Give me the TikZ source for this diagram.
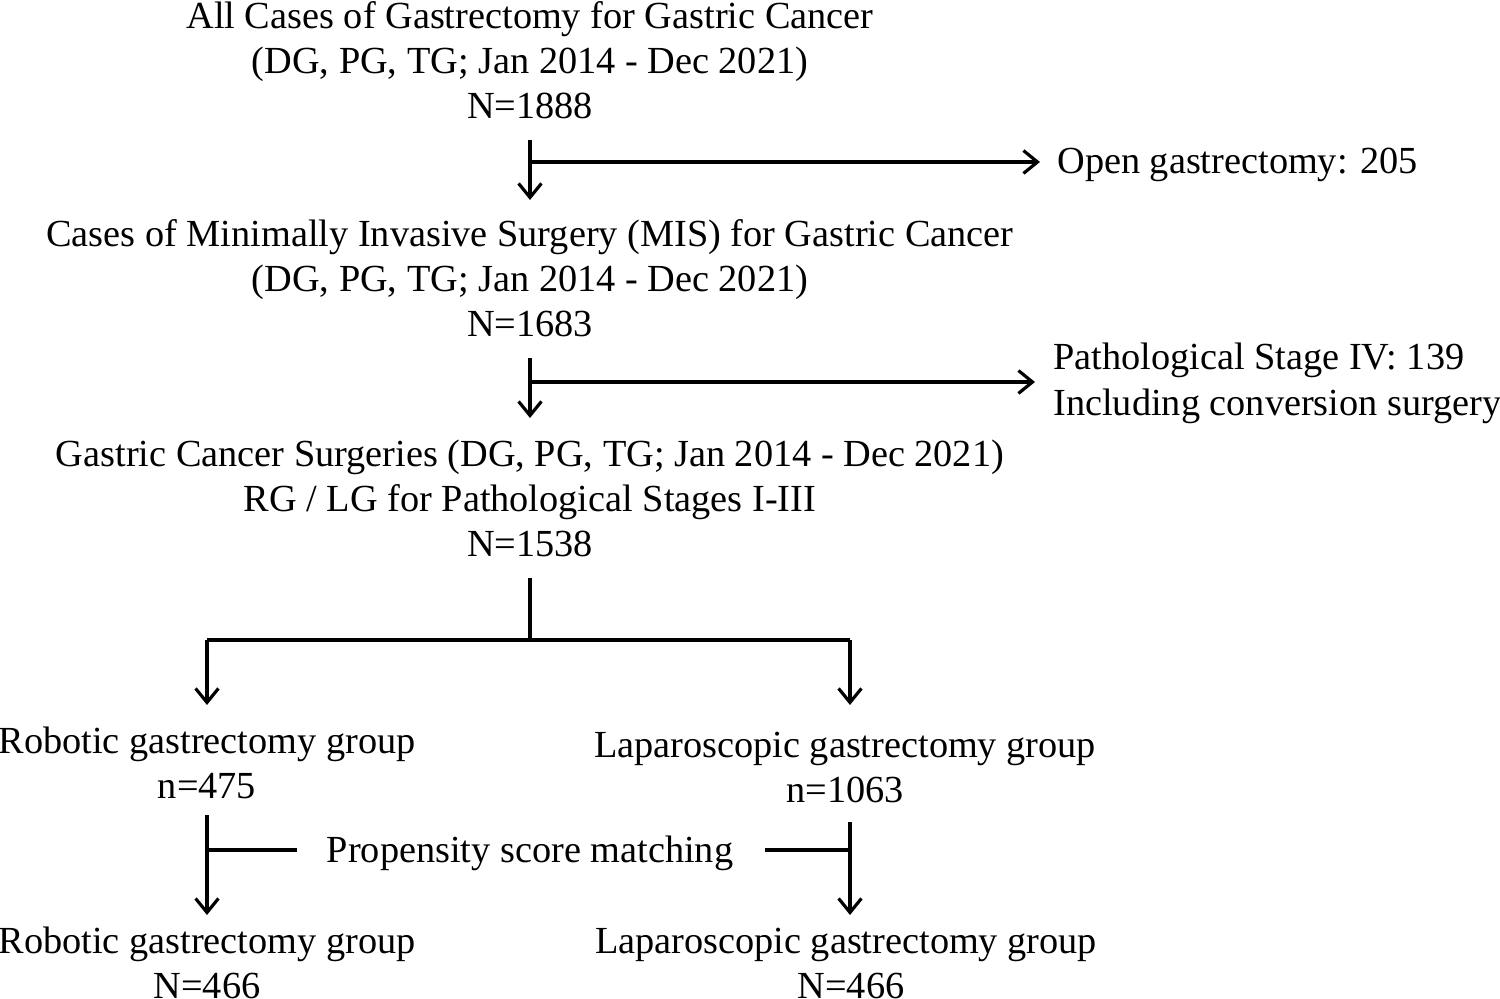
\documentclass[tikz,border=0pt]{standalone}
\usepackage{fontspec}
\setmainfont{Liberation Serif}
\usetikzlibrary{arrows.meta}
\begin{document}
\begin{tikzpicture}[x=0.02cm,y=-0.02cm,
  txt/.style={font=\fontsize{21.8}{25.5}\selectfont, inner sep=0pt, align=center},
  ln/.style={line width=1.8pt},
  arr/.style={ln, -{Straight Barb[length=8pt,width=13pt,line width=1.8pt]}}]
\useasboundingbox (0,0) rectangle (1500,999);
% blocks (anchor base of each line)
\node[txt, anchor=base] (b1a) at (530,29) {All Cases of Gastrectomy for Gastric Cancer};
\node[txt, anchor=base] (b1b) at (530,74) {(DG, PG, TG; Jan 2014 - Dec 2021)};
\node[txt, anchor=base] (b1c) at (530,119) {N=1888};
\node[txt, anchor=base] (b2a) at (530,247) {Cases of Minimally Invasive Surgery (MIS) for Gastric Cancer};
\node[txt, anchor=base] (b2b) at (530,292) {(DG, PG, TG; Jan 2014 - Dec 2021)};
\node[txt, anchor=base] (b2c) at (530,337) {N=1683};
\node[txt, anchor=base] (b3a) at (530,467) {Gastric Cancer Surgeries (DG, PG, TG; Jan 2014 - Dec 2021)};
\node[txt, anchor=base] (b3b) at (530,512) {RG / LG for Pathological Stages I-III};
\node[txt, anchor=base] (b3c) at (530,557) {N=1538};
\node[txt, anchor=base west] (ex1) at (1057,174) {Open gastrectomy: 205};
\node[txt, anchor=base west] (ex2a) at (1053,370) {Pathological Stage IV: 139};
\node[txt, anchor=base west] (ex2b) at (1053,416) {Including conversion surgery};
\node[txt, anchor=base] (r1a) at (207,753) {Robotic gastrectomy group};
\node[txt, anchor=base] (r1b) at (207,798) {n=475};
\node[txt, anchor=base] (l1a) at (845,757) {Laparoscopic gastrectomy group};
\node[txt, anchor=base] (l1b) at (845,802) {n=1063};
\node[txt, anchor=base] (psm) at (530,862) {Propensity score matching};
\node[txt, anchor=base] (r2a) at (207,953) {Robotic gastrectomy group};
\node[txt, anchor=base] (r2b) at (207,998) {N=466};
\node[txt, anchor=base] (l2a) at (846,953) {Laparoscopic gastrectomy group};
\node[txt, anchor=base] (l2b) at (851,998) {N=466};
% coordinates
\coordinate (a1s) at (530,140); \coordinate (a1e) at (530,200); \coordinate (a1m) at (530,162);
\coordinate (h1e) at (1040,162);
\coordinate (a2s) at (530,358); \coordinate (a2e) at (530,418); \coordinate (a2m) at (530,382);
\coordinate (h2e) at (1035,382);
\coordinate (s3) at (530,578); \coordinate (j3) at (530,640);
\coordinate (jl) at (207,640); \coordinate (jr) at (850,640);
\coordinate (al) at (207,705); \coordinate (ar) at (850,705);
\coordinate (ls) at (207,815); \coordinate (le) at (207,915); \coordinate (lm) at (207,850); \coordinate (lt) at (297,850);
\coordinate (rs) at (850,822); \coordinate (re) at (850,915); \coordinate (rm) at (850,850); \coordinate (rt) at (765,850);
% connectors
\draw[arr] (a1s) -- (a1e);
\draw[arr] (a1m) -- (h1e);
\draw[arr] (a2s) -- (a2e);
\draw[arr] (a2m) -- (h2e);
\draw[ln] (s3) -- (j3);
\draw[ln] (jl) -- (jr);
\draw[arr] (jl) -- (al);
\draw[arr] (jr) -- (ar);
\draw[arr] (ls) -- (le);
\draw[ln] (lm) -- (lt);
\draw[arr] (rs) -- (re);
\draw[ln] (rm) -- (rt);
\end{tikzpicture}
\end{document}
